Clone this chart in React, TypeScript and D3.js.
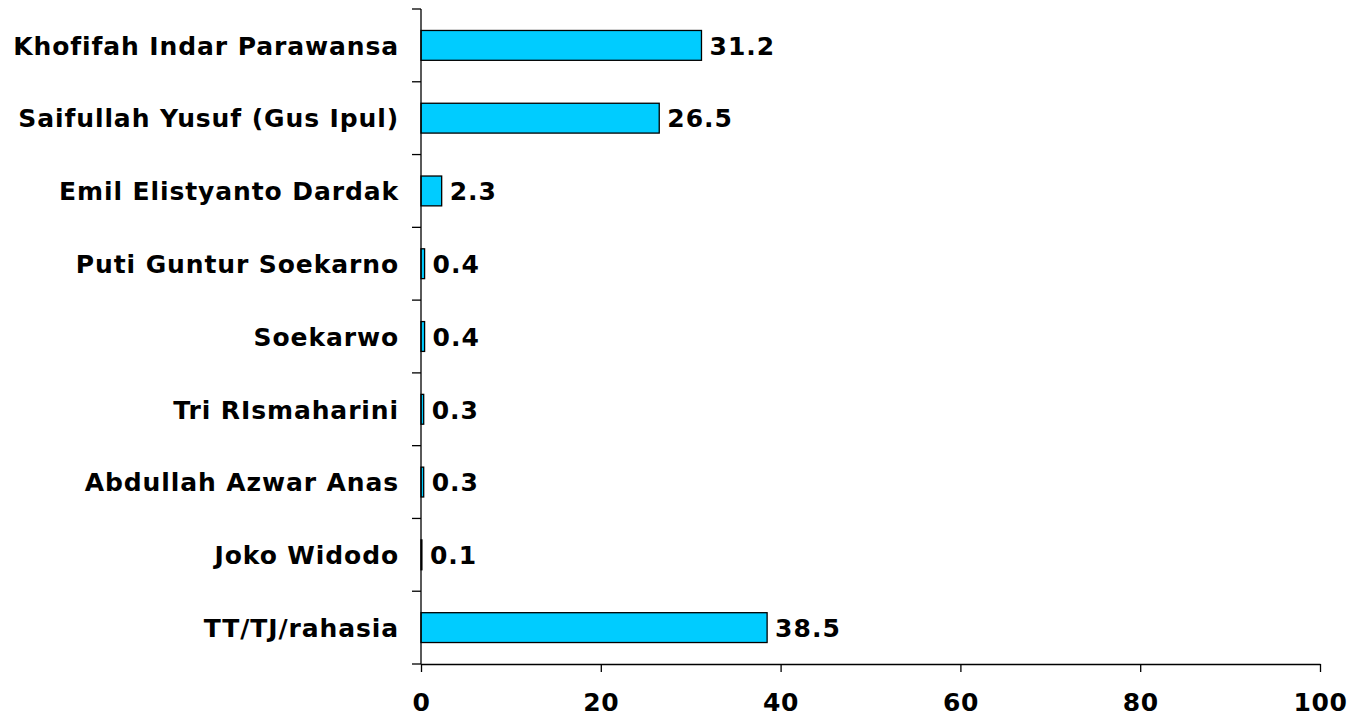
import React, { useEffect, useRef, FC } from 'react';
import * as d3 from 'd3';

/* Candidates, top to bottom */
const candidates: string[] = [
  'Khofifah Indar Parawansa',
  'Saifullah Yusuf (Gus Ipul)',
  'Emil Elistyanto Dardak',
  'Puti Guntur Soekarno',
  'Soekarwo',
  'Tri RIsmaharini',
  'Abdullah Azwar Anas',
  'Joko Widodo',
  'TT/TJ/rahasia',
];

/* Percentages */
const values: number[] = [31.2, 26.5, 2.3, 0.4, 0.4, 0.3, 0.3, 0.1, 38.5];

const xTicks: number[] = [0, 20, 40, 60, 80, 100];

type Margin = {
  left: number;
  top: number;
  right: number;
  bottom: number;
};

const FONT = "Verdana, 'DejaVu Sans', sans-serif";

const App: FC = () => {
  const xAxisRef = useRef<SVGGElement | null>(null);
  const yAxisRef = useRef<SVGGElement | null>(null);
  const width: number = 1350;
  const height: number = 715;
  const margin: Margin = { left: 421, top: 9, right: 30, bottom: 51 };

  const x = d3.scaleLinear().domain([0, 100]).range([margin.left, 1320]);
  const y = d3
    .scaleBand()
    .domain(candidates)
    .range([margin.top, height - margin.bottom])
    .padding(0);

  const bw = y.bandwidth();
  const barH = bw * 0.41;

  useEffect(() => {
    const xAxis: any = d3
      .axisBottom(x)
      .tickValues(xTicks)
      .tickFormat(d3.format('d') as any)
      .tickSize(8)
      .tickSizeOuter(0)
      .tickPadding(21);
    const xg = d3.select(xAxisRef.current).call(xAxis);
    xg.selectAll('text')
      .attr('font-family', FONT)
      .attr('font-weight', 'bold')
      .attr('font-size', 25)
      .attr('letter-spacing', 0.6)
      .attr('fill', '#000');
    xg.selectAll('line, path').attr('stroke', '#000').attr('stroke-width', 1.3);

    // y axis: ticks at category boundaries, no labels
    const yg = d3.select(yAxisRef.current);
    yg.selectAll('*').remove();
    yg.append('line')
      .attr('x1', margin.left)
      .attr('x2', margin.left)
      .attr('y1', margin.top)
      .attr('y2', height - margin.bottom)
      .attr('stroke', '#000')
      .attr('stroke-width', 1.3);
    const bounds = candidates.map((c) => y(c) as number).concat([height - margin.bottom]);
    yg.selectAll('line.tick')
      .data(bounds)
      .enter()
      .append('line')
      .attr('class', 'tick')
      .attr('x1', margin.left - 9)
      .attr('x2', margin.left)
      .attr('y1', (d) => d)
      .attr('y2', (d) => d)
      .attr('stroke', '#000')
      .attr('stroke-width', 1.3);
  }, []);

  return (
    <svg
      width={width}
      height={height}
      style={{ position: 'absolute', left: 0, top: 0, background: '#fff' }}
    >
      <g id="bars">
        {candidates.map((c, i) => {
          const top = (y(c) as number) + (bw - barH) / 2;
          return (
            <g key={c}>
              <rect
                x={x(0)}
                y={top}
                width={Math.max(0, x(values[i]) - x(0))}
                height={barH}
                fill="#00CCFF"
                stroke="#000"
                strokeWidth={1.3}
              />
              <text
                x={x(values[i]) + 8}
                y={(y(c) as number) + bw / 2}
                dy="0.37em"
                fontFamily={FONT}
                fontWeight="bold"
                fontSize={25}
                letterSpacing={1}
                fill="#000"
              >
                {values[i].toFixed(1)}
              </text>
              <text
                x={margin.left - 22}
                y={(y(c) as number) + bw / 2}
                dy="0.37em"
                textAnchor="end"
                fontFamily={FONT}
                fontWeight="bold"
                fontSize={25}
                letterSpacing={0.9}
                fill="#000"
              >
                {c}
              </text>
            </g>
          );
        })}
      </g>
      <g ref={yAxisRef} />
      <g ref={xAxisRef} transform={`translate(0, ${height - margin.bottom})`} />
    </svg>
  );
};

export default App;
